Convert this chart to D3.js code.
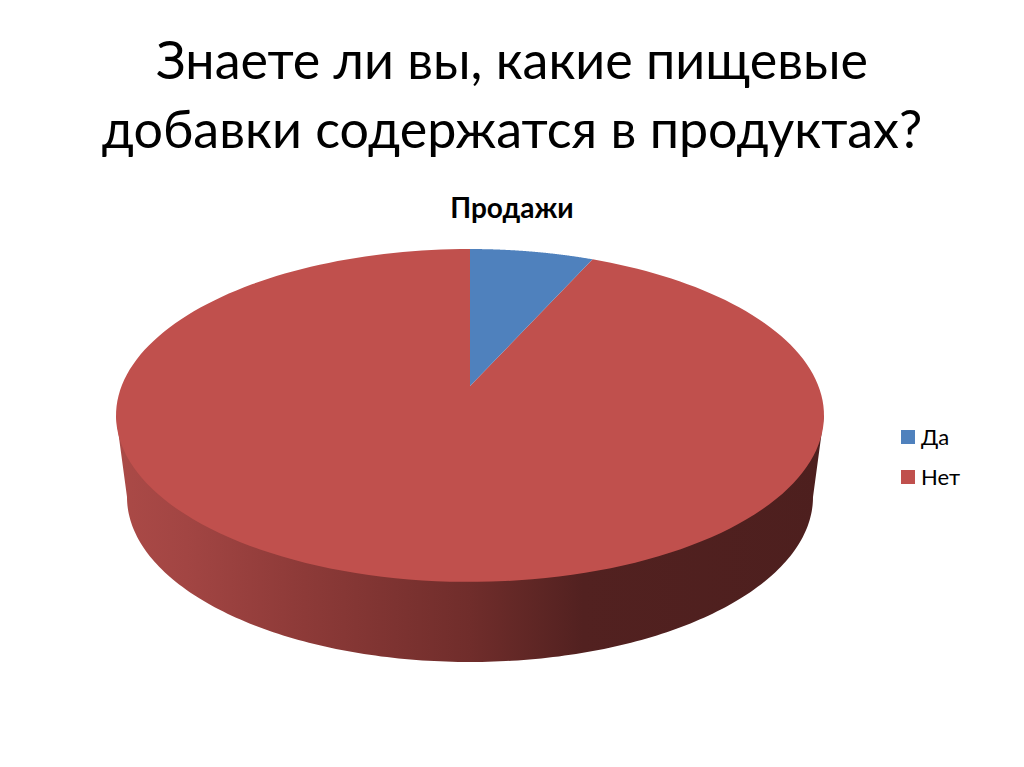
<!DOCTYPE html>
<html><head><meta charset="utf-8">
<script src="https://cdn.jsdelivr.net/npm/d3@7/dist/d3.min.js"></script>
<style>html,body{margin:0;padding:0;background:#fff}svg{display:block}</style></head>
<body><svg id="c" width="1024" height="767"></svg>
<script>
const titleLines = ["Знаете ли вы, какие пищевые", "добавки содержатся в продуктах?"];
const chartTitle = "Продажи";
const categories = ["Да", "Нет"];
const values = [6.7, 93.3];
const colors = ["#4f81bd", "#c0504d"];

const font = "Lato, 'Noto Sans', sans-serif";
const svg = d3.select("#c");

// Tilted-disc projection: unit circle to screen (apex sits above the ellipse centre)
const persp = 0.177;
const apex = [470, 386];
function topFace(angle) {
  const u = Math.sin(angle), v = Math.cos(angle), w = 1 + persp * v;
  return [apex[0] + 348.4 * u / w, (apex[1] - 92.9 * v) / w];
}

const pie = d3.pie().sort(null).value(d => d);
const arcs = pie(values);

const defs = svg.append("defs");
const grad = defs.append("linearGradient").attr("id", "side")
  .attr("gradientUnits", "userSpaceOnUse")
  .attr("x1", 116).attr("x2", 824).attr("y1", 0).attr("y2", 0);
[[0, "#ab4a47"], [0.1, "#a24543"], [0.25, "#8f3b39"], [0.5, "#702d2b"], [0.66, "#522120"], [1, "#4d1f1e"]]
  .forEach(s => grad.append("stop").attr("offset", s[0]).attr("stop-color", s[1]));

// Side wall
const lower = d3.range(0, 181).map(i => {
  const t = i / 180 * Math.PI;
  return [470 - 343 * Math.cos(t), 497 + 165 * Math.sin(t)];
});
svg.append("path")
  .attr("d", d3.line()([[116, 415.5], ...lower, [824, 415.5]]) + "Z")
  .attr("fill", "url(#side)");

// Top face
arcs.slice().reverse().forEach(d => {
  const n = 180;
  const pts = d3.range(n + 1).map(i => topFace(d.startAngle + (d.endAngle - d.startAngle) * i / n));
  svg.append("path")
    .attr("d", d3.line()([apex, ...pts]) + "Z")
    .attr("fill", colors[d.index]);
});

// Slide title
svg.append("g").selectAll("text").data(titleLines).join("text")
  .attr("x", 512).attr("y", (d, i) => 79 + i * 69)
  .attr("text-anchor", "middle")
  .attr("font-family", font).attr("font-size", 52).attr("fill", "#000")
  .text(d => d);

svg.append("text").attr("x", 512).attr("y", 218).attr("text-anchor", "middle")
  .attr("font-family", font).attr("font-size", 28).attr("font-weight", 700).attr("fill", "#000")
  .text(chartTitle);

// Legend
const y = d3.scalePoint().domain(categories).range([437, 477]);
const lg = svg.append("g").selectAll("g").data(categories).join("g")
  .attr("transform", d => `translate(901,${y(d)})`);
lg.append("rect").attr("width", 14).attr("height", 14).attr("y", -7)
  .attr("fill", (d, i) => colors[i]);
lg.append("text").attr("x", 20).attr("y", 8)
  .attr("font-family", font).attr("font-size", 22).attr("fill", "#000")
  .text(d => d);
</script></body></html>
